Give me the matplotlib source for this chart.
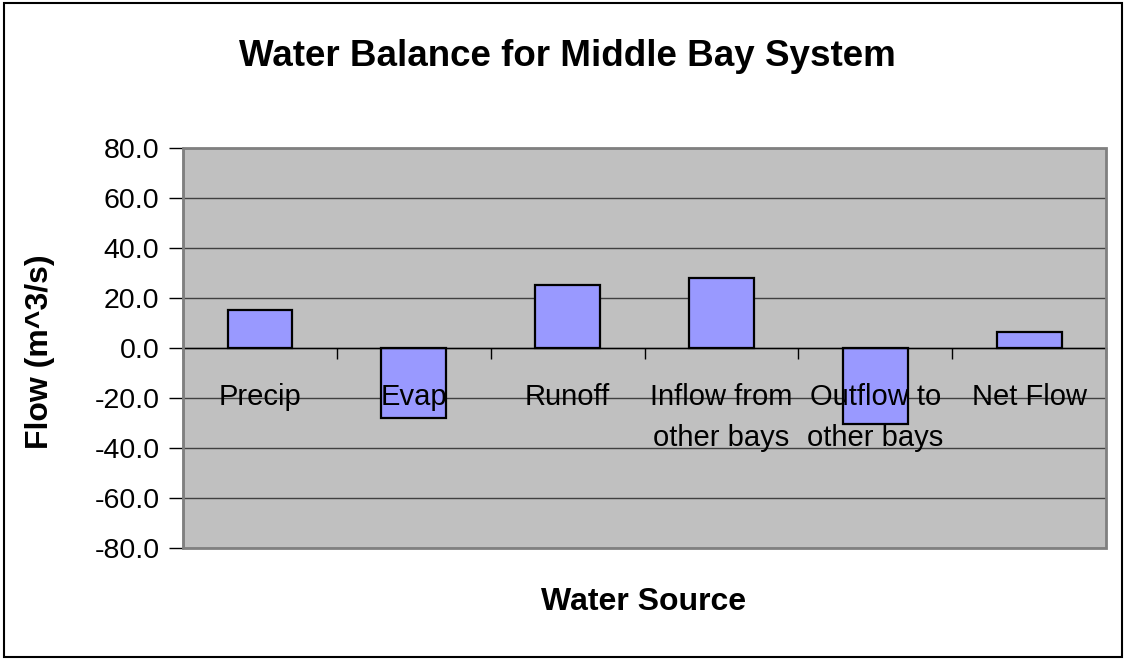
import numpy as np
import matplotlib.pyplot as plt
from matplotlib.patches import Rectangle

# flow terms for the bay (m^3/s)
sources = ['Precip', 'Evap', 'Runoff', 'Inflow from\nother bays',
           'Outflow to\nother bays', 'Net Flow']
flows = [15.0, -28.2, 25.2, 27.8, -30.6, 6.5]
yticks = [80, 60, 40, 20, 0, -20, -40, -60, -80]

plt.rcParams['font.family'] = ['Liberation Sans', 'DejaVu Sans']

fig = plt.figure(figsize=(11.24, 6.6), dpi=100)
ax = fig.add_axes([0.1628, 0.1697, 0.8213, 0.6061])
ax.set_facecolor('#C0C0C0')
ax.set_axisbelow(False)  # labels drawn over the bars

x = np.arange(len(sources))

#gridlines under the bars
for v in yticks:
    ax.axhline(v, color='#404040', lw=1.0, zorder=1)

ax.bar(x, flows, width=0.42, color='#9999FF', edgecolor='black',
       linewidth=1.6, zorder=2)

ax.set_xlim(-0.5, len(sources) - 0.5)
ax.set_ylim(-80, 80)

#y axis
ax.set_yticks(yticks)
ax.set_yticklabels([f'{v:.1f}' for v in yticks], fontsize=20.5)
ax.tick_params(axis='y', direction='out', length=10, width=1, pad=7)

#category axis sits on the zero line
ax.spines['bottom'].set_position(('data', 0))
ax.spines['bottom'].set_color('black')
ax.spines['bottom'].set_linewidth(1)
ax.spines['left'].set_color('black')
ax.spines['left'].set_linewidth(1)
for s in ['top', 'right']:
    ax.spines[s].set_visible(False)

ax.set_xticks(np.arange(len(sources) + 1) - 0.5)
ax.set_xticklabels([])
ax.tick_params(axis='x', which='major', direction='out', length=8, width=1)
ax.set_xticks(x, minor=True)
ax.set_xticklabels(sources, minor=True, fontsize=21, linespacing=1.6)
ax.tick_params(axis='x', which='minor', length=0, pad=25)

#plot area border
ax.add_patch(Rectangle((0, 0), 1, 1, transform=ax.transAxes, fill=False,
                       edgecolor='#808080', lw=2, clip_on=False, zorder=5))

fig.text(0.505, 0.915, 'Water Balance for Middle Bay System', ha='center',
         va='center', fontsize=26.5, fontweight='bold')
fig.text(0.573, 0.088, 'Water Source', ha='center', va='center',
         fontsize=23, fontweight='bold')
fig.text(0.036, 0.467, 'Flow (m^3/s)', ha='center', va='center',
         rotation=90, fontsize=23, fontweight='bold')

#outer chart border
fig.add_artist(Rectangle((0.004, 0.004), 0.994, 0.992, transform=fig.transFigure,
                         fill=False, edgecolor='black', lw=1.5))

plt.savefig('out.png', dpi=100)
